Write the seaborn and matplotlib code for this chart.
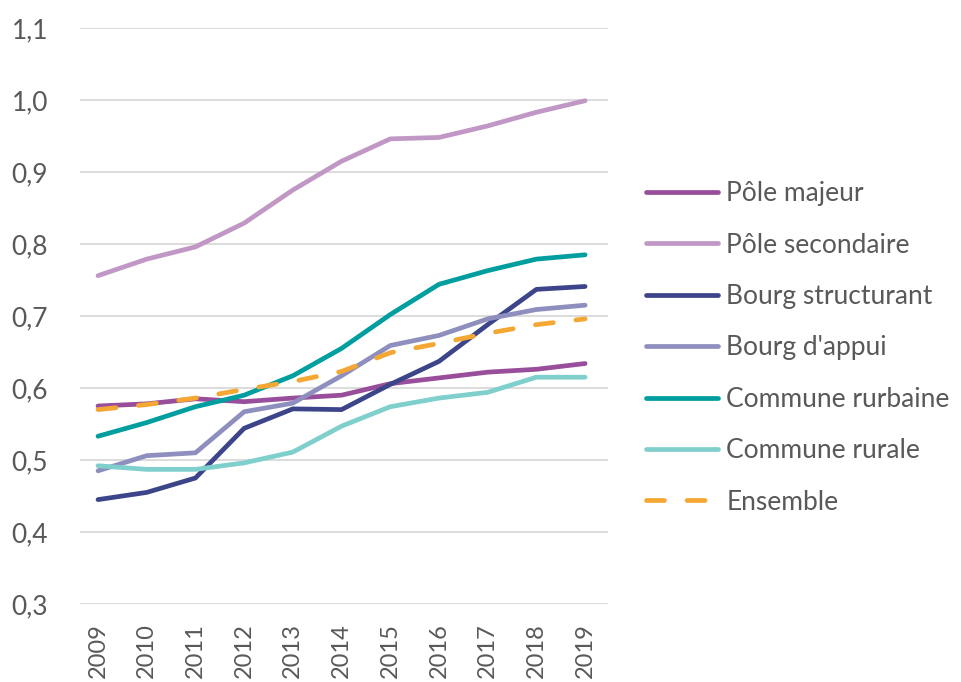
import matplotlib
matplotlib.use("Agg")
import matplotlib.pyplot as plt
import seaborn as sns
import pandas as pd
from matplotlib.lines import Line2D

years = [2009, 2010, 2011, 2012, 2013, 2014, 2015, 2016, 2017, 2018, 2019]
pole_majeur = [0.575, 0.578, 0.585, 0.581, 0.586, 0.590, 0.606, 0.614, 0.622, 0.626, 0.634]
pole_secondaire = [0.756, 0.779, 0.796, 0.829, 0.875, 0.915, 0.946, 0.948, 0.964, 0.983, 0.999]
bourg_structurant = [0.445, 0.455, 0.475, 0.544, 0.571, 0.570, 0.605, 0.637, 0.688, 0.737, 0.741]
bourg_appui = [0.485, 0.506, 0.510, 0.567, 0.579, 0.617, 0.659, 0.673, 0.696, 0.709, 0.715]
commune_rurbaine = [0.533, 0.552, 0.574, 0.590, 0.617, 0.655, 0.702, 0.744, 0.763, 0.779, 0.785]
commune_rurale = [0.492, 0.487, 0.487, 0.496, 0.511, 0.547, 0.574, 0.586, 0.594, 0.615, 0.615]
ensemble = [0.570, 0.577, 0.586, 0.598, 0.609, 0.623, 0.649, 0.662, 0.676, 0.688, 0.696]

series_names = ["Pôle majeur", "Pôle secondaire", "Bourg structurant", "Bourg d'appui",
                "Commune rurbaine", "Commune rurale", "Ensemble"]
series_values = [pole_majeur, pole_secondaire, bourg_structurant, bourg_appui,
                 commune_rurbaine, commune_rurale, ensemble]
colors = ["#984E9A", "#C197C5", "#3C4589", "#8E8FBE", "#009E9E", "#7FCFCD", "#F5A733"]
y_ticks = [0.3, 0.4, 0.5, 0.6, 0.7, 0.8, 0.9, 1.0, 1.1]

sns.set_theme(style="white")
plt.rcParams['font.family'] = ['Lato', 'DejaVu Sans']
text_color = "#595959"
LW = 3.4
DASH = (3.8, 4.8)

rows = []
for name, vals in zip(series_names, series_values):
    for y, v in zip(years, vals):
        rows.append({"year": y, "value": v, "serie": name})
df = pd.DataFrame(rows)

fig = plt.figure(figsize=(9.62, 6.82), dpi=100)
ax = fig.add_axes([80/962, 1-604/682, (608-80)/962, (604-28)/682])

palette = dict(zip(series_names, colors))
dashes = {n: "" for n in series_names}
dashes["Ensemble"] = DASH
sns.lineplot(data=df, x="year", y="value", hue="serie", style="serie",
             palette=palette, dashes=dashes, linewidth=LW, ax=ax, legend=False,
             hue_order=series_names, style_order=series_names)
for line in ax.get_lines():
    line.set_solid_capstyle("round")
    line.set_dash_capstyle("round")

ax.set_xlim(2008.63, 2019.47)
ax.set_ylim(0.3, 1.1)
ax.set_yticks(y_ticks)
ax.set_yticklabels([f"{t:.1f}".replace(".", ",") for t in y_ticks])
ax.set_xticks(years)
ax.set_xticklabels([str(y) for y in years], rotation=90)
ax.yaxis.grid(True, color="#D9D9D9", linewidth=1.3)
ax.set_axisbelow(True)
for s in ax.spines.values():
    s.set_visible(False)
ax.tick_params(axis="both", length=0, colors=text_color)
ax.tick_params(axis="y", pad=23, labelsize=19)
ax.tick_params(axis="x", pad=14, labelsize=17)
ax.set_xlabel("")
ax.set_ylabel("")

handles = []
for name, c in zip(series_names, colors):
    if name == "Ensemble":
        h = Line2D([], [], color=c, linewidth=LW, linestyle=(0, DASH), dash_capstyle="round")
    else:
        h = Line2D([], [], color=c, linewidth=LW, solid_capstyle="round")
    handles.append(h)
leg = fig.legend(handles, series_names, loc="center left",
                 bbox_to_anchor=(622/962, 1-348/682), frameon=False,
                 fontsize=19, handlelength=2.75, handletextpad=0.3, labelspacing=1.0)
for t in leg.get_texts():
    t.set_color(text_color)

fig.savefig("out.png", dpi=100)
